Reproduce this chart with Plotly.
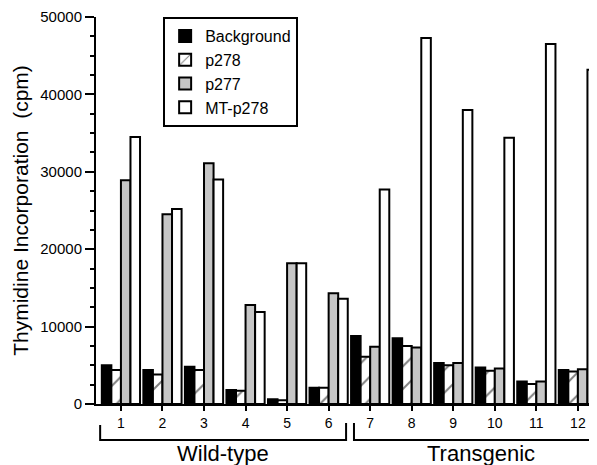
import plotly.graph_objects as go

groups = [str(i) for i in range(1, 13)]
group_x = list(range(1, 13))
background = [5000, 4400, 4800, 1800, 600, 2100, 8800, 8500, 5300, 4700, 2900, 4400]
p278 = [4400, 3800, 4400, 1700, 500, 2100, 6100, 7500, 5000, 4300, 2600, 4200]
p277 = [28900, 24500, 31100, 12800, 18200, 14300, 7400, 7300, 5300, 4600, 2900, 4500]
mt_p278 = [34500, 25200, 29000, 11900, 18200, 13600, 27700, 47300, 38000, 34400, 46500, 43200]
y_ticks = [0, 10000, 20000, 30000, 40000, 50000]
bracket_labels = ["Wild-type", "Transgenic"]

FONT = "Liberation Sans, Arial, Helvetica, sans-serif"
line = dict(color="black", width=2)

fig = go.Figure()
fig.add_trace(go.Bar(name="Background", x=group_x, y=background,
                     marker=dict(color="black", line=line)))
fig.add_trace(go.Bar(name="p278", x=group_x, y=p278,
                     marker=dict(color="white", line=line,
                                 pattern=dict(shape="/", fgcolor="black", bgcolor="white",
                                              size=16, solidity=0.12))))
fig.add_trace(go.Bar(name="p277", x=group_x, y=p277,
                     marker=dict(color="#c6c6c6", line=line)))
fig.add_trace(go.Bar(name="MT-p278", x=group_x, y=mt_p278,
                     marker=dict(color="white", line=line)))

# page offset: the html body adds 8px around the figure
OFF = 8
def yp(py):
    return (404 - py) / 387.0

shapes = []
shapes.append(dict(type="path", xref="x", yref="paper",
                   path=f"M 0.5,{yp(425)} L 0.5,{yp(440)} L 6.42,{yp(440)} L 6.42,{yp(423)}",
                   line=dict(color="black", width=2)))
shapes.append(dict(type="path", xref="x", yref="paper",
                   path=f"M 6.61,{yp(423)} L 6.61,{yp(440)} L 12.6,{yp(440)}",
                   line=dict(color="black", width=2)))

annotations = [
    dict(text=bracket_labels[0], x=3.46, y=yp(439), xref="x", yref="paper",
         showarrow=False, font=dict(family=FONT, size=22, color="black"), yanchor="top"),
    dict(text=bracket_labels[1], x=9.67, y=yp(439), xref="x", yref="paper",
         showarrow=False, font=dict(family=FONT, size=22, color="black"), yanchor="top"),
]

fig.update_layout(
    width=597 - OFF, height=465 - OFF,
    margin=dict(l=96 - OFF, r=0, t=17 - OFF, b=465 - 404, autoexpand=False),
    paper_bgcolor="white", plot_bgcolor="white",
    barmode="group", bargap=0.08, bargroupgap=0,
    font=dict(family=FONT, color="black"),
    showlegend=True,
    legend=dict(x=0.134, y=1.0, xanchor="left", yanchor="top",
                bordercolor="black", borderwidth=2, bgcolor="white",
                font=dict(family=FONT, size=16, color="black"),
                itemsizing="constant", tracegroupgap=0),
    shapes=shapes,
    annotations=annotations,
    xaxis=dict(range=[0.4, 12.46], tickmode="array", tickvals=group_x, ticktext=groups,
               automargin=False,
               showline=True, linecolor="black", linewidth=2,
               ticks="outside", ticklen=5, tickwidth=2, tickcolor="black",
               showgrid=False, zeroline=False,
               tickfont=dict(family=FONT, size=14, color="black")),
    yaxis=dict(range=[0, 50000], tickmode="array", tickvals=y_ticks,
               ticktext=[str(v) for v in y_ticks],
               automargin=False,
               showline=True, linecolor="black", linewidth=2,
               ticks="outside", ticklen=9, tickwidth=2, tickcolor="black",
               minor=dict(dtick=2500, ticks="outside", ticklen=4, tickwidth=1.5,
                          tickcolor="black", showgrid=False),
               showgrid=False, zeroline=False,
               tickfont=dict(family=FONT, size=15, color="black"),
               title=dict(text="Thymidine Incorporation  (cpm)",
                          font=dict(family=FONT, size=21, color="black"), standoff=6)),
)

fig.write_html("out.html")
